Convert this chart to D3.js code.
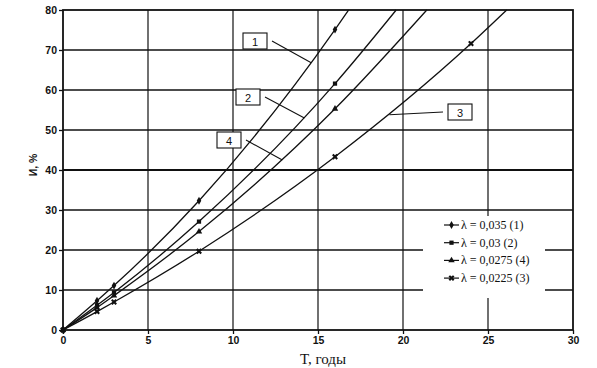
<!DOCTYPE html>
<html>
<head>
<meta charset="utf-8">
<script src="https://cdn.jsdelivr.net/npm/d3@7"></script>
<style>
  body { margin: 0; background: #fff; }
  svg { display: block; }
</style>
</head>
<body>
<div id="container"></div>
<script>
const WIDTH = 597;
const HEIGHT = 368;
const MARGIN = { TOP: 10, BOTTOM: 38, LEFT: 63, RIGHT: 24 };

const width = WIDTH - MARGIN.LEFT - MARGIN.RIGHT;
const height = HEIGHT - MARGIN.TOP - MARGIN.BOTTOM;

// данные
const T_MARKS = [0, 2, 3, 8, 16, 24];
const I_1 = [0, 7.3, 11.1, 32.3, 75.1];        // λ = 0,035
const I_2 = [0, 6.2, 9.4, 27.1, 61.6];         // λ = 0,03
const I_4 = [0, 5.6, 8.6, 24.6, 55.3];         // λ = 0,0275
const I_3 = [0, 4.6, 7.0, 19.7, 43.3, 71.6];   // λ = 0,0225
const T_TOP = [16.8, 19.6, 21.4, 26.1];        // где кривая выходит на 80 %
const I_TOP = 80;

const LEGEND = ['λ = 0,035 (1)', 'λ = 0,03 (2)', 'λ = 0,0275 (4)', 'λ = 0,0225 (3)'];
const SYMBOLS = [d3.symbolDiamond, d3.symbolSquare, d3.symbolTriangle, d3.symbolCross];
const CURVE_NAMES = ['1', '2', '4', '3'];

const X_TICKS = [0, 5, 10, 15, 20, 25, 30];
const Y_TICKS = [0, 10, 20, 30, 40, 50, 60, 70, 80];

const series = [I_1, I_2, I_4, I_3].map((vals, k) => {
  const pts = vals.map((v, i) => ({ t: T_MARKS[i], v: v }));
  return { name: CURVE_NAMES[k], marks: pts, line: pts.concat([{ t: T_TOP[k], v: I_TOP }]) };
});

const svg = d3.select('#container')
  .append('svg')
    .attr('width', WIDTH)
    .attr('height', HEIGHT);

const g = svg.append('g')
  .attr('transform', `translate(${MARGIN.LEFT}, ${MARGIN.TOP})`);

const x = d3.scaleLinear().domain([0, 30]).range([0, width]);
const y = d3.scaleLinear().domain([0, 80]).range([height, 0]);

// сетка
g.append('g').selectAll('line')
  .data(X_TICKS.slice(1, -1))
  .enter().append('line')
    .attr('x1', d => x(d)).attr('x2', d => x(d))
    .attr('y1', 0).attr('y2', height)
    .attr('stroke', '#111').attr('stroke-width', 1.2);

g.append('g').selectAll('line')
  .data(Y_TICKS.slice(1, -1))
  .enter().append('line')
    .attr('x1', 0).attr('x2', width)
    .attr('y1', d => y(d)).attr('y2', d => y(d))
    .attr('stroke', '#111')
    .attr('stroke-width', d => d === 40 ? 2.2 : 1.3);

// оси
const xAxis = g.append('g')
  .attr('transform', `translate(0, ${height})`)
  .call(d3.axisBottom(x).tickValues(X_TICKS).tickSize(4).tickSizeOuter(0));
const yAxis = g.append('g')
  .call(d3.axisLeft(y).tickValues(Y_TICKS).tickSize(4).tickSizeOuter(0));

[xAxis, yAxis].forEach(a => {
  a.select('.domain').remove();
  a.selectAll('line').attr('stroke', '#111').attr('stroke-width', 1.3);
  a.selectAll('text')
    .attr('fill', '#111')
    .style('font-family', 'Liberation Sans, Arial, sans-serif')
    .style('font-weight', 'bold')
    .style('font-size', '10.5px');
});
xAxis.selectAll('text').attr('y', 7).attr('dy', '0.71em');
yAxis.selectAll('text').attr('x', -6);

// рамка
g.append('rect')
  .attr('width', width).attr('height', height)
  .attr('fill', 'none')
  .attr('stroke', '#111').attr('stroke-width', 1.8);

// кривые
const line = d3.line()
  .x(d => x(d.t))
  .y(d => y(d.v))
  .curve(d3.curveMonotoneX);

const curves = g.append('g').selectAll('g')
  .data(series)
  .enter().append('g');

curves.append('path')
  .attr('d', d => line(d.line))
  .attr('fill', 'none')
  .attr('stroke', '#111')
  .attr('stroke-width', 1.3);

curves.each(function (s, k) {
  d3.select(this).selectAll('path.mark')
    .data(s.marks)
    .enter().append('path')
      .attr('class', 'mark')
      .attr('transform', d => `translate(${x(d.t)}, ${y(d.v)})` + (k === 3 ? ' rotate(45)' : ''))
      .attr('d', d3.symbol().type(SYMBOLS[k]).size(k === 3 ? 22 : 18))
      .attr('fill', '#111');
});

// подписи кривых (номер в рамке + выноска)
const callouts = [
  { name: '1', bx: 243, by: 33, to: [14.6, 66.8] },
  { name: '2', bx: 236, by: 89, to: [14.2, 53] },
  { name: '4', bx: 217, by: 132, to: [12.9, 42.5] },
  { name: '3', bx: 448, by: 104, to: [19.2, 53.8] }
];

const cg = svg.append('g');
callouts.forEach(c => {
  const tx = MARGIN.LEFT + x(c.to[0]);
  const ty = MARGIN.TOP + y(c.to[1]);
  const right = c.name === '3';
  cg.append('line')
    .attr('x1', right ? c.bx - 5 : c.bx + 29).attr('y1', c.by + 8)
    .attr('x2', tx).attr('y2', ty)
    .attr('stroke', '#111').attr('stroke-width', 1.1);
  cg.append('rect')
    .attr('x', c.bx).attr('y', c.by)
    .attr('width', 24).attr('height', 16)
    .attr('fill', '#fff')
    .attr('stroke', '#111').attr('stroke-width', 1.1);
  cg.append('text')
    .attr('x', c.bx + 12).attr('y', c.by + 12.5)
    .attr('text-anchor', 'middle')
    .style('font-family', 'Liberation Sans, Arial, sans-serif')
    .style('font-size', '11px')
    .attr('fill', '#111')
    .text(c.name);
});

// легенда
const lg = svg.append('g').attr('transform', 'translate(423, 216)');
lg.append('rect')
  .attr('width', 122).attr('height', 82)
  .attr('fill', '#fff');

const items = lg.selectAll('g')
  .data(LEGEND)
  .enter().append('g')
    .attr('transform', (d, i) => `translate(0, ${9 + i * 17.7})`);

items.append('line')
  .attr('x1', 21).attr('x2', 36)
  .attr('stroke', '#111').attr('stroke-width', 1.2);
items.append('path')
  .attr('transform', (d, i) => 'translate(28.5, 0)' + (i === 3 ? ' rotate(45)' : ''))
  .attr('d', (d, i) => d3.symbol().type(SYMBOLS[i]).size(i === 3 ? 22 : 18)())
  .attr('fill', '#111');
items.append('text')
  .attr('x', 38).attr('y', 4)
  .style('font-family', 'Liberation Serif, Times New Roman, serif')
  .style('font-size', '12px')
  .attr('fill', '#111')
  .text(d => d);

// подписи осей
svg.append('text')
  .attr('x', MARGIN.LEFT + width / 2 + 5)
  .attr('y', 364)
  .attr('text-anchor', 'middle')
  .style('font-family', 'Liberation Serif, Times New Roman, serif')
  .style('font-size', '15px')
  .attr('fill', '#111')
  .text('T, годы');

svg.append('text')
  .attr('transform', 'translate(37, 165) rotate(-90)')
  .attr('text-anchor', 'middle')
  .style('font-family', 'Liberation Sans, Arial, sans-serif')
  .style('font-weight', 'bold')
  .style('font-size', '10.5px')
  .attr('fill', '#111')
  .text('И, %');
</script>
</body>
</html>
